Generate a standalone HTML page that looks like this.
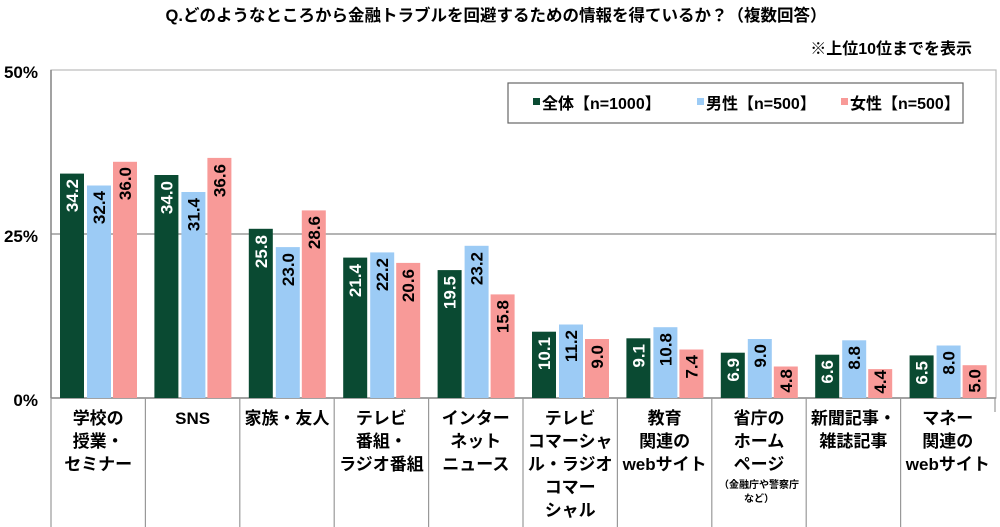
<!DOCTYPE html>
<html><head><meta charset="utf-8"><style>
html,body{margin:0;padding:0;background:#fff;}
svg{display:block;font-family:"Liberation Sans","Noto Sans CJK JP",sans-serif;font-weight:bold;}
</style></head><body>
<svg width="1000" height="527" viewBox="0 0 1000 527" xmlns="http://www.w3.org/2000/svg">
<text x="496" y="21" font-size="16.5" text-anchor="middle" fill="#000">Q.どのようなところから金融トラブルを回避するための情報を得ているか？（複数回答）</text>
<text x="972" y="54" font-size="16" text-anchor="end" fill="#000">※上位10位までを表示</text>
<rect x="51" y="70" width="945" height="328" fill="#fff" stroke="#bbb" stroke-width="1.2"/>
<line x1="51" y1="234" x2="996" y2="234" stroke="#888" stroke-width="1.2"/>
<line x1="51" y1="398" x2="996" y2="398" stroke="#888" stroke-width="1.5"/>
<line x1="51" y1="70" x2="51" y2="398" stroke="#888" stroke-width="1.5"/>
<g font-size="17" text-anchor="end" fill="#000">
<text x="38" y="78">50%</text><text x="38" y="242">25%</text><text x="38" y="406">0%</text>
</g>
<rect x="508" y="83" width="455" height="40" fill="#fff" stroke="#666" stroke-width="1.2"/>
<g font-size="16">
<rect x="533" y="98" width="7" height="7" fill="#0a4a32"/><text x="542" y="109">全体【n=1000】</text>
<rect x="697" y="98" width="7" height="7" fill="#9ccbf5"/><text x="706" y="109">男性【n=500】</text>
<rect x="841" y="98" width="7" height="7" fill="#f89a98"/><text x="850" y="109">女性【n=500】</text>
</g>
<g stroke="#999" stroke-width="1.2">
<line x1="51" y1="398" x2="51" y2="527"/><line x1="145.4" y1="398" x2="145.4" y2="527"/><line x1="239.8" y1="398" x2="239.8" y2="527"/><line x1="334.2" y1="398" x2="334.2" y2="527"/><line x1="428.6" y1="398" x2="428.6" y2="527"/><line x1="523" y1="398" x2="523" y2="527"/><line x1="617.4" y1="398" x2="617.4" y2="527"/><line x1="711.8" y1="398" x2="711.8" y2="527"/><line x1="806.2" y1="398" x2="806.2" y2="527"/><line x1="900.6" y1="398" x2="900.6" y2="527"/><line x1="995" y1="398" x2="995" y2="412"/>
</g>
<g font-size="17" text-anchor="end">
<g transform="translate(51,0)">
<rect x="9" y="173.6" width="24" height="224.4" fill="#0a4a32"/><rect x="36" y="185.5" width="24" height="212.5" fill="#9ccbf5"/><rect x="62" y="161.8" width="24" height="236.2" fill="#f89a98"/>
<text transform="translate(27,179) rotate(-90)" fill="#fff">34.2</text><text transform="translate(54,191) rotate(-90)">32.4</text><text transform="translate(80,167) rotate(-90)">36.0</text>
</g>
<g transform="translate(145.4,0)">
<rect x="9" y="175" width="24" height="223" fill="#0a4a32"/><rect x="36" y="192" width="24" height="206" fill="#9ccbf5"/><rect x="62" y="157.9" width="24" height="240.1" fill="#f89a98"/>
<text transform="translate(27,181) rotate(-90)" fill="#fff">34.0</text><text transform="translate(54,198) rotate(-90)">31.4</text><text transform="translate(80,164) rotate(-90)">36.6</text>
</g>
<g transform="translate(239.8,0)">
<rect x="9" y="228.8" width="24" height="169.2" fill="#0a4a32"/><rect x="36" y="247.1" width="24" height="150.9" fill="#9ccbf5"/><rect x="62" y="210.4" width="24" height="187.6" fill="#f89a98"/>
<text transform="translate(27,235) rotate(-90)" fill="#fff">25.8</text><text transform="translate(54,253) rotate(-90)">23.0</text><text transform="translate(80,216) rotate(-90)">28.6</text>
</g>
<g transform="translate(334.2,0)">
<rect x="9" y="257.6" width="24" height="140.4" fill="#0a4a32"/><rect x="36" y="252.4" width="24" height="145.6" fill="#9ccbf5"/><rect x="62" y="262.9" width="24" height="135.1" fill="#f89a98"/>
<text transform="translate(27,264) rotate(-90)" fill="#fff">21.4</text><text transform="translate(54,258) rotate(-90)">22.2</text><text transform="translate(80,269) rotate(-90)">20.6</text>
</g>
<g transform="translate(428.6,0)">
<rect x="9" y="270.1" width="24" height="127.9" fill="#0a4a32"/><rect x="36" y="245.8" width="24" height="152.2" fill="#9ccbf5"/><rect x="62" y="294.4" width="24" height="103.6" fill="#f89a98"/>
<text transform="translate(27,276) rotate(-90)" fill="#fff">19.5</text><text transform="translate(54,252) rotate(-90)">23.2</text><text transform="translate(80,300) rotate(-90)">15.8</text>
</g>
<g transform="translate(523,0)">
<rect x="9" y="331.7" width="24" height="66.3" fill="#0a4a32"/><rect x="36" y="324.5" width="24" height="73.5" fill="#9ccbf5"/><rect x="62" y="339" width="24" height="59" fill="#f89a98"/>
<text transform="translate(27,337) rotate(-90)" fill="#fff">10.1</text><text transform="translate(54,330) rotate(-90)">11.2</text><text transform="translate(80,345) rotate(-90)">9.0</text>
</g>
<g transform="translate(617.4,0)">
<rect x="9" y="338.3" width="24" height="59.7" fill="#0a4a32"/><rect x="36" y="327.2" width="24" height="70.8" fill="#9ccbf5"/><rect x="62" y="349.5" width="24" height="48.5" fill="#f89a98"/>
<text transform="translate(27,344) rotate(-90)" fill="#fff">9.1</text><text transform="translate(54,333) rotate(-90)">10.8</text><text transform="translate(80,355) rotate(-90)">7.4</text>
</g>
<g transform="translate(711.8,0)">
<rect x="9" y="352.7" width="24" height="45.3" fill="#0a4a32"/><rect x="36" y="339" width="24" height="59" fill="#9ccbf5"/><rect x="62" y="366.5" width="24" height="31.5" fill="#f89a98"/>
<text transform="translate(27,358) rotate(-90)" fill="#fff">6.9</text><text transform="translate(54,344) rotate(-90)">9.0</text><text transform="translate(80,369) rotate(-90)">4.8</text>
</g>
<g transform="translate(806.2,0)">
<rect x="9" y="354.7" width="24" height="43.3" fill="#0a4a32"/><rect x="36" y="340.3" width="24" height="57.7" fill="#9ccbf5"/><rect x="62" y="369.1" width="24" height="28.9" fill="#f89a98"/>
<text transform="translate(27,360) rotate(-90)" fill="#fff">6.6</text><text transform="translate(54,346) rotate(-90)">8.8</text><text transform="translate(80,370) rotate(-90)">4.4</text>
</g>
<g transform="translate(900.6,0)">
<rect x="9" y="355.4" width="24" height="42.6" fill="#0a4a32"/><rect x="36" y="345.5" width="24" height="52.5" fill="#9ccbf5"/><rect x="62" y="365.2" width="24" height="32.8" fill="#f89a98"/>
<text transform="translate(27,361) rotate(-90)" fill="#fff">6.5</text><text transform="translate(54,351) rotate(-90)">8.0</text><text transform="translate(80,369) rotate(-90)">5.0</text>
</g>
</g>
<g font-size="17" text-anchor="middle" fill="#000">
<text x="98.2" y="424">学校の</text><text x="98.2" y="447">授業・</text><text x="98.2" y="470">セミナー</text>
<text x="192.6" y="424">SNS</text>
<text x="287" y="424">家族・友人</text>
<text x="381.4" y="424">テレビ</text><text x="381.4" y="447">番組・</text><text x="381.4" y="470">ラジオ番組</text>
<text x="475.8" y="424">インター</text><text x="475.8" y="447">ネット</text><text x="475.8" y="470">ニュース</text>
<text x="570.2" y="424">テレビ</text><text x="570.2" y="447">コマーシャ</text><text x="570.2" y="470">ル・ラジオ</text><text x="570.2" y="493">コマー</text><text x="570.2" y="516">シャル</text>
<text x="664.6" y="424">教育</text><text x="664.6" y="447">関連の</text><text x="664.6" y="470">webサイト</text>
<text x="759" y="424">省庁の</text><text x="759" y="447">ホーム</text><text x="759" y="470">ページ</text>
<text x="759" y="488" font-size="10">（金融庁や警察庁</text><text x="759" y="502" font-size="10">など）</text>
<text x="853.4" y="424">新聞記事・</text><text x="853.4" y="447">雑誌記事</text>
<text x="947.8" y="424">マネー</text><text x="947.8" y="447">関連の</text><text x="947.8" y="470">webサイト</text>
</g>
</svg>
</body></html>
